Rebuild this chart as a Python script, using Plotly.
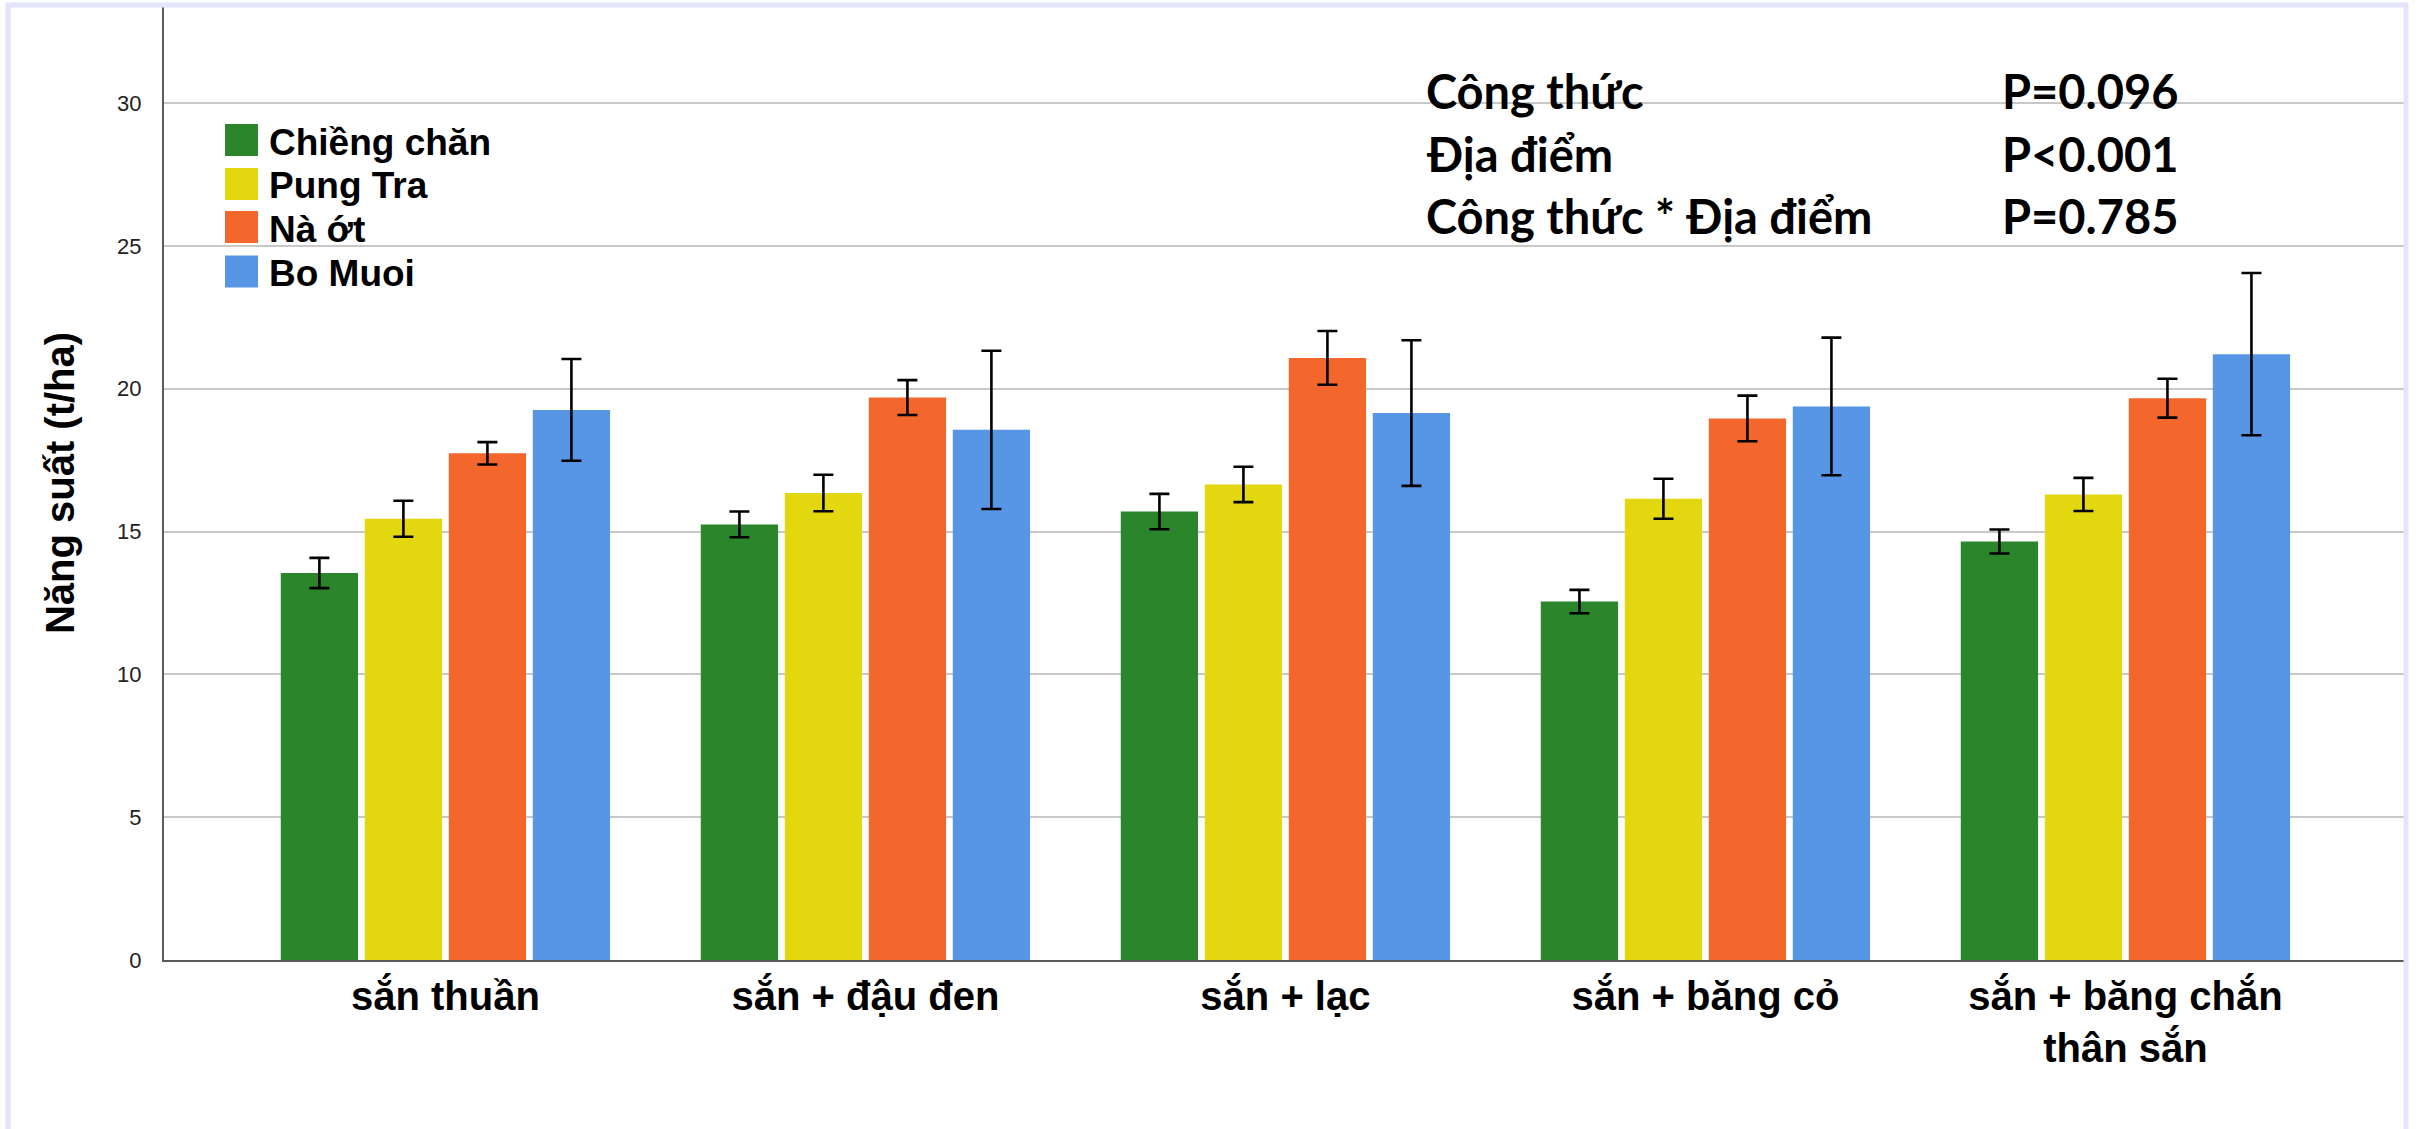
import plotly.graph_objects as go

categories = ["sắn thuần", "sắn + đậu đen", "sắn + lạc", "sắn + băng cỏ", "sắn + băng chắn<br>thân sắn"]
series_names = ["Chiềng chăn", "Pung Tra", "Nà ớt", "Bo Muoi"]
chieng_chan = [13.55, 15.25, 15.70, 12.55, 14.65]
chieng_chan_err = [0.53, 0.45, 0.62, 0.41, 0.42]
pung_tra = [15.45, 16.35, 16.65, 16.15, 16.30]
pung_tra_err = [0.63, 0.64, 0.62, 0.70, 0.58]
na_ot = [17.74, 19.69, 21.08, 18.96, 19.67]
na_ot_err = [0.39, 0.61, 0.94, 0.80, 0.68]
bo_muoi = [19.26, 18.56, 19.15, 19.38, 21.21]
bo_muoi_err = [1.78, 2.77, 2.55, 2.41, 2.84]
colors = ["#2b862b", "#e3d810", "#f3672c", "#5796e4"]

stats_labels = ["Công thức", "Địa điểm", "Công thức * Địa điểm"]
stats_values = ["P=0.096", "P<0.001", "P=0.785"]

values = [chieng_chan, pung_tra, na_ot, bo_muoi]
errors = [chieng_chan_err, pung_tra_err, na_ot_err, bo_muoi_err]

W, H = 2420, 1129
ML, MR, MT, MB = 164, 14, 6, 169
PW, PH = W - ML - MR, H - MT - MB

def px_x(x):
    return (x - ML) / PW

def px_y(y):
    return (H - MB - y) / PH

fig = go.Figure()
for name, v, e, c in zip(series_names, values, errors, colors):
    fig.add_trace(go.Bar(
        x=categories, y=v, name=name, marker_color=c, marker_line_width=0,
        error_y=dict(type="data", array=e, visible=True, color="black",
                     thickness=2.6, width=10),
        showlegend=False,
    ))

shapes = []
annotations = []
# custom legend
row_centers = [140, 184, 227, 271.5]
for name, c, yc in zip(series_names, colors, row_centers):
    shapes.append(dict(type="rect", xref="paper", yref="paper",
                       x0=px_x(225), x1=px_x(258), y0=px_y(yc + 16), y1=px_y(yc - 16),
                       fillcolor=c, line_width=0, layer="above"))
    annotations.append(dict(text=name, xref="paper", yref="paper", x=px_x(267), y=px_y(yc + 2),
                            xanchor="left", yanchor="middle", showarrow=False,
                            font=dict(family="Liberation Sans, Arial, sans-serif", size=37,
                                      color="black", weight="bold")))

# stats text
stat_rows = [88, 151, 213]
for lab, val, yc in zip(stats_labels, stats_values, stat_rows):
    annotations.append(dict(text=lab, xref="paper", yref="paper", x=px_x(1424), y=px_y(yc + 3),
                            xanchor="left", yanchor="middle", showarrow=False,
                            font=dict(family="Lato, Open Sans, sans-serif", size=47,
                                      color="black", weight="bold")))
    annotations.append(dict(text=val, xref="paper", yref="paper", x=px_x(2000), y=px_y(yc + 3),
                            xanchor="left", yanchor="middle", showarrow=False,
                            font=dict(family="Lato, Open Sans, sans-serif", size=47,
                                      color="black", weight="bold")))

# lavender frame
fx0, fx1, fy0, fy1 = px_x(8), px_x(2406), px_y(1135), px_y(5)
shapes.append(dict(type="path", xref="paper", yref="paper",
                   path=f"M {fx0},{fy0} L {fx0},{fy1} L {fx1},{fy1} L {fx1},{fy0}",
                   line=dict(color="#e4e4fb", width=5), layer="above"))

fig.update_layout(
    width=W, height=H,
    margin=dict(l=ML, r=MR, t=MT, b=MB, autoexpand=False),
    paper_bgcolor="white", plot_bgcolor="white",
    barmode="group", bargap=0.2, bargroupgap=0.08,
    shapes=shapes, annotations=annotations,
    font=dict(family="Liberation Sans, Arial, sans-serif", color="black"),
)
fig.update_xaxes(
    range=[-0.67, 4.668], showgrid=False, showline=True, linecolor="#5a5a5a", linewidth=2,
    ticks="", tickfont=dict(size=40, color="black", weight="bold",
                            family="Liberation Sans, Arial, sans-serif"),
    ticklabelstandoff=0,
)
fig.update_yaxes(
    range=[0, 33.4], dtick=5, tick0=0, showgrid=True, gridcolor="#c8c8c8", gridwidth=2,
    showline=True, linecolor="#5a5a5a", linewidth=2, ticks="", zeroline=False,
    tickfont=dict(size=22, color="#222222"), ticklabelstandoff=16,
    title=dict(text="Năng suất (t/ha)", standoff=30,
               font=dict(size=40, color="black", weight="bold",
                         family="Liberation Sans, Arial, sans-serif")),
)

fig.write_html("out.html", config={"displayModeBar": False},
               post_script="document.body.style.margin='0';document.body.style.overflow='hidden';")
